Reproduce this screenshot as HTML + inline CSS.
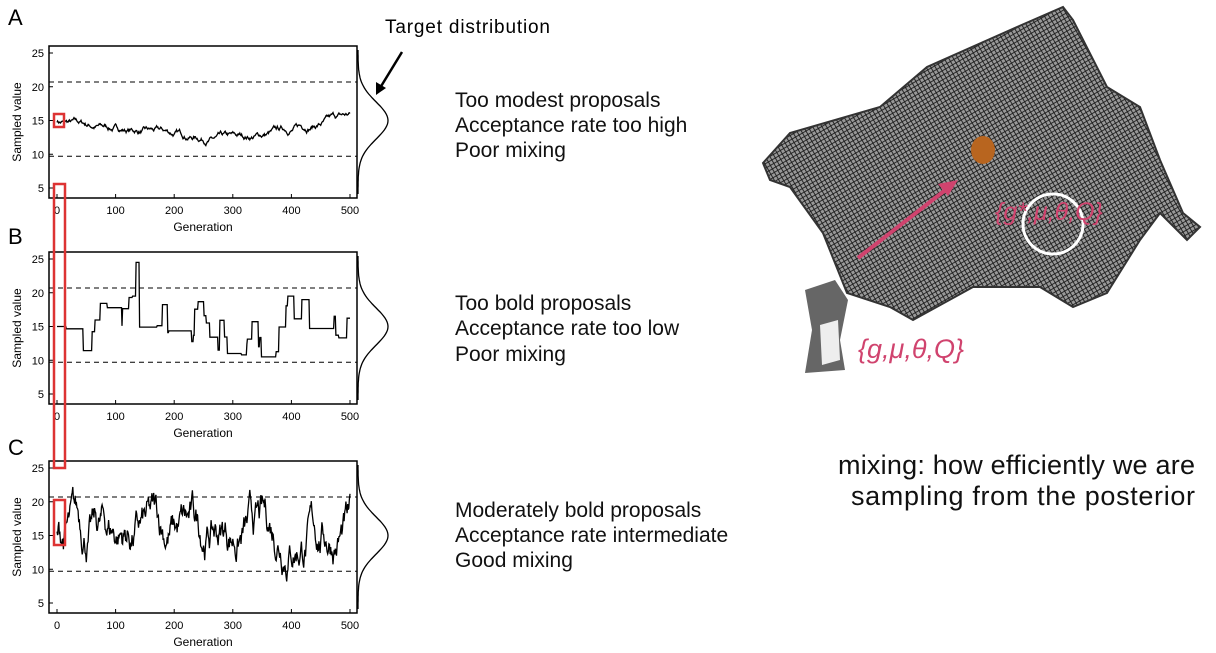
<!DOCTYPE html>
<html><head><meta charset="utf-8"><style>
body{margin:0;background:#fff;width:1216px;height:653px;overflow:hidden;font-family:"Liberation Sans",Arial,sans-serif}
svg{position:absolute;left:0;top:0}
</style></head><body>
<svg id="s" width="1216" height="653" xmlns="http://www.w3.org/2000/svg" font-family="Liberation Sans, Arial, sans-serif">
<defs>
<pattern id="mesh" width="4" height="4" patternUnits="userSpaceOnUse" patternTransform="rotate(-30)">
<rect width="4" height="4" fill="#999"/>
<path d="M0 0H4M0 0V4" stroke="#1a1a1a" stroke-width="1.8"/>
</pattern>
</defs>
<text x="8" y="25" font-size="22">A</text>
<text x="8" y="244" font-size="22">B</text>
<text x="8" y="455" font-size="22">C</text>
<text x="385" y="33" font-size="19" textLength="165">Target distribution</text>
<line x1="402" y1="52" x2="380" y2="88" stroke="#000" stroke-width="2.5"/>
<polygon points="376,95 376,82 386,88" fill="#000"/>
<g font-size="21" fill="#111">
<text x="455" y="107">Too modest proposals</text>
<text x="455" y="132">Acceptance rate too high</text>
<text x="455" y="157">Poor mixing</text>
<text x="455" y="310">Too bold proposals</text>
<text x="455" y="335">Acceptance rate too low</text>
<text x="455" y="361">Poor mixing</text>
<text x="455" y="517">Moderately bold proposals</text>
<text x="455" y="542">Acceptance rate intermediate</text>
<text x="455" y="567">Good mixing</text>
</g>
<g font-size="27" fill="#111">
<text x="838" y="474" textLength="357">mixing: how efficiently we are</text>
<text x="851" y="505" textLength="344">sampling from the posterior</text>
</g>
<polygon points="763,163 790,133 880,107 927,67 1017,27 1063,7 1073,20 1107,87 1140,107 1160,160 1183,213 1200,227 1187,240 1160,213 1140,240 1107,293 1073,307 1040,287 973,287 913,320 890,307 847,293 823,233 790,187 770,180" fill="url(#mesh)" stroke="#333" stroke-width="2"/>
<line x1="858" y1="258" x2="948" y2="188" stroke="#d0436e" stroke-width="4"/>
<polygon points="958,180 938,184 948,196" fill="#d0436e"/>
<ellipse cx="983" cy="150" rx="12" ry="14" fill="#b8651f"/>
<circle cx="1053" cy="224" r="30" fill="none" stroke="#fff" stroke-width="3"/>
<text x="995" y="220" font-size="25" fill="#d0436e" font-style="italic">{g*,μ,θ,Q}</text>
<path d="M805 290 L835 280 L848 300 L840 340 L845 370 L805 373 L812 330 Z" fill="#666"/>
<path d="M820 325 L838 320 L840 360 L822 365 Z" fill="#eee"/>
<text x="858" y="358" font-size="27" fill="#d0436e" font-style="italic">{g,μ,θ,Q}</text>
<g id="plots"></g>
<g fill="none" stroke="#d33" stroke-width="2.5">
<rect x="54" y="114" width="10" height="13"/>
<rect x="54" y="184" width="11" height="284"/>
<rect x="54" y="500" width="11" height="45"/>
</g>
</svg>
<script>
var seed=7;function r(){seed=(seed*16807)%2147483647;return seed/2147483647;}
var g=document.getElementById('plots'),h='';
function X(t){return 57+t*0.586;}
function plot(T,vals){
 var B=T+152,Y=function(v){return T+7+(25-v)*6.75;};
 h+='<rect x="49" y="'+T+'" width="308" height="152" fill="none" stroke="#000" stroke-width="1.5"/>';
 [20.7,9.7].forEach(function(v){h+='<line x1="49" x2="357" y1="'+Y(v)+'" y2="'+Y(v)+'" stroke="#000" stroke-dasharray="5,4"/>';});
 [25,20,15,10,5].forEach(function(v){h+='<text x="44" y="'+(Y(v)+4)+'" font-size="11" text-anchor="end">'+v+'</text><line x1="49" x2="53" y1="'+Y(v)+'" y2="'+Y(v)+'" stroke="#000"/>';});
 [0,100,200,300,400,500].forEach(function(v){h+='<text x="'+X(v)+'" y="'+(B+16)+'" font-size="11" text-anchor="middle">'+v+'</text><line x1="'+X(v)+'" x2="'+X(v)+'" y1="'+B+'" y2="'+(B-4)+'" stroke="#000"/>';});
 h+='<text x="203" y="'+(B+33)+'" font-size="12" text-anchor="middle">Generation</text>';
 h+='<text transform="translate(21,'+(T+76)+') rotate(-90)" font-size="12" text-anchor="middle">Sampled value</text>';
 var d='';for(var y=T+4;y<=B-4;y+=2){var v=25-(y-T-7)/6.75;var x=358+30*Math.exp(-(v-15)*(v-15)/(2*7.5));d+=(d?'L':'M')+x.toFixed(1)+' '+y;}
 h+='<path d="'+d+'" fill="none" stroke="#000" stroke-width="1.3"/>';
 d='';vals.forEach(function(v,i){d+=(i?'L':'M')+X(i).toFixed(1)+' '+Y(v).toFixed(1);});
 h+='<path d="'+d+'" fill="none" stroke="#000" stroke-width="1.3"/>';
}
var a=[],v=15;for(var i=0;i<=500;i++){var tgt=i<290?14.5-2.5*i/290:12+4*(i-290)/210;v+=(r()-0.5)*0.5+(tgt-v)*0.05;a.push(v);}
plot(46,a);
var b=[],v=15;for(var i=0;i<=500;i++){if(r()<0.06)v=Math.max(10.5,Math.min(19.5,v+(r()-0.5)*8+(14.5-v)*0.3));var w=v;if(i>=135&&i<=140)w=24.5;b.push(w);}
plot(252,b);
var c=[],v=15;for(var i=0;i<=500;i++){v+=(r()-0.5)*3.2+(15.5-v)*0.06;v=Math.max(4.7,Math.min(24.8,v));c.push(v);}
plot(461,c);
g.innerHTML=h;
</script>
</body></html>
